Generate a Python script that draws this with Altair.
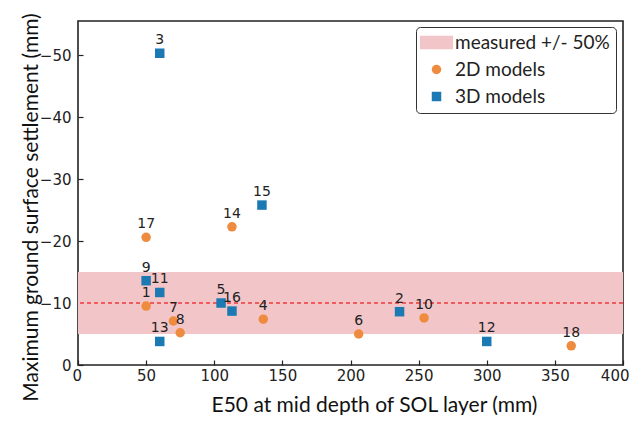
import altair as alt
import pandas as pd

# --- data ---
labels_2d = ["1", "4", "6", "7", "8", "10", "14", "17", "18"]
x_2d = [50, 136, 206, 70, 75, 254, 113, 50, 362]
y_2d = [-9.5, -7.4, -5.0, -7.1, -5.2, -7.6, -22.3, -20.6, -3.1]

labels_3d = ["2", "3", "5", "9", "11", "12", "13", "15", "16"]
x_3d = [236, 60, 105, 50, 60, 300, 60, 135, 113]
y_3d = [-8.6, -50.3, -10.0, -13.6, -11.7, -3.8, -3.8, -25.8, -8.7]

measured = -10
band_lo, band_hi = -15, -5
x_ticks = [0, 50, 100, 150, 200, 250, 300, 350, 400]
y_ticks = [-50, -40, -30, -20, -10, 0]

cats = ["measured +/- 50%", "2D models", "3D models"]
col_band, col_2d, col_3d = "#f2c6c8", "#ef8b3f", "#1b7ab4"

pts = pd.DataFrame({
    "x": x_2d + x_3d,
    "y": y_2d + y_3d,
    "label": labels_2d + labels_3d,
    "kind": ["2D models"] * len(x_2d) + ["3D models"] * len(x_3d),
})
band = pd.DataFrame({"x0": [x_ticks[0]], "x1": [x_ticks[-1]], "lo": [band_lo], "hi": [band_hi]})
meas = pd.DataFrame({"y": [measured]})

xscale = alt.Scale(domain=[0, 400], nice=False, zero=False)
yscale = alt.Scale(domain=[-55.5, 0], reverse=True, nice=False, zero=False)

xaxis = alt.Axis(values=x_ticks, title="E50 at mid depth of SOL layer (mm)", offset=-5,
                 tickSize=5, labelPadding=3, domain=False, grid=False,
                 labelFlush=True, labelFlushOffset=6,
                 titleX=296, titleY=51, titleBaseline="alphabetic")
yaxis = alt.Axis(values=y_ticks, title="Maximum ground surface settlement (mm)", offset=-5,
                 tickSize=5, labelPadding=7, domain=False, grid=False,
                 titleX=-46, titleY=186, titleBaseline="alphabetic", titleAngle=270)

band_layer = alt.Chart(band).mark_rect(color=col_band).encode(
    x=alt.X("x0:Q", scale=xscale, axis=xaxis),
    x2="x1:Q",
    y=alt.Y("lo:Q", scale=yscale, axis=yaxis),
    y2="hi:Q",
)

line_layer = alt.Chart(meas).mark_rule(color="#ee3a3a", strokeDash=[4, 3], strokeWidth=1.4).encode(
    y=alt.Y("y:Q", scale=yscale),
)

point_layer = alt.Chart(pts).mark_point(filled=True, opacity=1, size=90).encode(
    x=alt.X("x:Q", scale=xscale),
    y=alt.Y("y:Q", scale=yscale),
    color=alt.Color("kind:N", scale=alt.Scale(domain=cats, range=[col_band, col_2d, col_3d]),
                    legend=alt.Legend(title=None, orient="none", legendX=338, legendY=6,
                                      strokeColor="#333", cornerRadius=4, padding=6,
                                      labelFont="Lato", labelFontSize=19, labelColor="#222",
                                      labelLimit=400,
                                      symbolSize=90, symbolOffset=5, labelOffset=9,
                                      rowPadding=7, symbolStrokeWidth=0, symbolOpacity=1)),
    shape=alt.Shape("kind:N", scale=alt.Scale(domain=cats,
                    range=["M-3.5,-1.4H3.5V1.4H-3.5Z", "circle", "square"])),
)

text_layer = alt.Chart(pts).mark_text(dy=-9, baseline="alphabetic", font="DejaVu Sans",
                                      fontSize=14, color="#222").encode(
    x=alt.X("x:Q", scale=xscale),
    y=alt.Y("y:Q", scale=yscale),
    text="label:N",
)

chart = alt.layer(band_layer, line_layer, point_layer, text_layer).properties(
    width=545, height=344,
    autosize=alt.AutoSizeParams(type="none"),
    padding={"left": 70, "top": 13, "right": 9, "bottom": 50},
).configure_view(
    stroke="#222", strokeWidth=1.6
).configure_axis(
    labelFont="DejaVu Sans", labelFontSize=15, labelColor="#222",
    tickColor="#222", tickWidth=1.2,
    titleFont="Lato", titleFontSize=21, titleFontWeight="normal", titleColor="#111",
).configure_legend(
    labelFontSize=19,
)

chart.save("out.html", embed_options={"renderer": "svg", "actions": False})
